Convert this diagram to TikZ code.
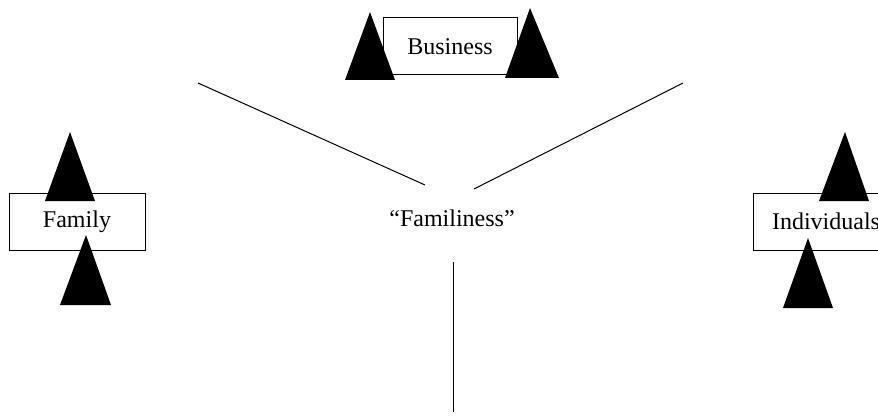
\documentclass[tikz,border=0pt]{standalone}
\usepackage{fontspec}
\setmainfont{Liberation Serif}
\tikzset{
	box/.style={draw, line width=0.5pt, minimum height=28.5pt, inner sep=0pt, font=\fontsize{12}{14}\selectfont},
	tri/.style={fill=black}
}
\begin{document}
\begin{tikzpicture}[x=0.5pt,y=-0.5pt]
	\useasboundingbox (0,0) rectangle (878,417);
	%dobozok
	\node [box, minimum width=67pt] (business) at (450,46.5) {Business};
	\node [box, minimum width=68pt] (family) at (77,221.5) {Family};
	\node [box, minimum width=80pt, text width=80pt, align=left] (individuals) at (833,221.5) {\hspace*{9.5pt}Individuals};
	\node [font=\fontsize{12}{14}\selectfont] (familiness) at (452,218) {“Familiness”};
	
	%háromszögek
	\fill [tri] (345,80) -- (370,12) -- (395,80) -- cycle;
	\fill [tri] (505,78) -- (530,8) -- (559,78) -- cycle;
	\fill [tri] (45,201) -- (70,132) -- (95,201) -- cycle;
	\fill [tri] (60,305) -- (86,235) -- (111,305) -- cycle;
	\fill [tri] (819,201) -- (845,132) -- (869,201) -- cycle;
	\fill [tri] (783,308) -- (808,238) -- (833,308) -- cycle;
	
	%vonalak
	\coordinate (l1) at (198,83);
	\coordinate (l2) at (425,185);
	\coordinate (r1) at (683,83);
	\coordinate (r2) at (474,189);
	\coordinate (v1) at (453,262);
	\coordinate (v2) at (453,412);
	\draw [line width=0.5pt] (l1) -- (l2);
	\draw [line width=0.5pt] (r1) -- (r2);
	\draw [line width=0.5pt] (v1) -- (v2);
\end{tikzpicture}
\end{document}
